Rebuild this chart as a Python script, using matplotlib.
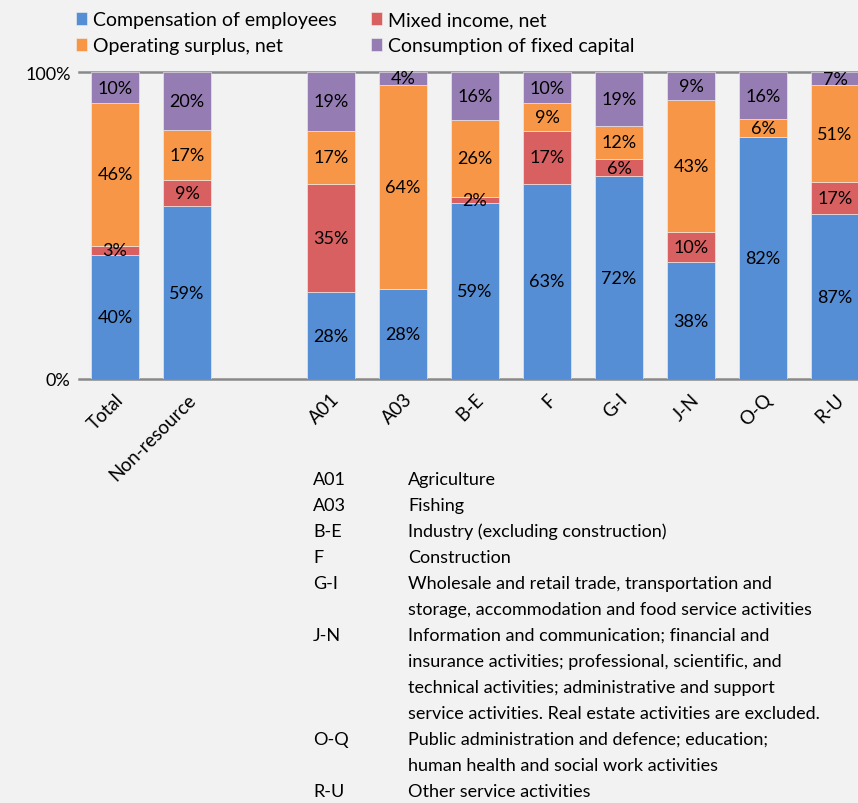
import matplotlib
matplotlib.use("Agg")
import matplotlib.pyplot as plt
import numpy as np

plt.rcParams['font.family'] = ['Lato', 'DejaVu Sans']

categories = ["Total", "Non-resource", "", "A01", "A03", "B-E", "F", "G-I", "J-N", "O-Q", "R-U"]
compensation = [40, 59, 0, 28, 28, 59, 63, 72, 38, 82, 87]
mixed_income = [3, 9, 0, 35, 0, 2, 17, 6, 10, 0, 17]
operating_surplus = [46, 17, 0, 17, 64, 26, 9, 12, 43, 6, 51]
fixed_capital = [10, 20, 0, 19, 4, 16, 10, 19, 9, 16, 7]

series_names = ["Compensation of employees", "Mixed income, net",
                "Operating surplus, net", "Consumption of fixed capital"]
colors = ["#558ED5", "#D96060", "#F79646", "#957DB3"]

codes = ["A01", "A03", "B-E", "F", "G-I", "", "J-N", "", "", "", "O-Q", "", "R-U"]
descriptions = [
    "Agriculture",
    "Fishing",
    "Industry (excluding construction)",
    "Construction",
    "Wholesale and retail trade, transportation and",
    "storage, accommodation and food service activities",
    "Information and communication; financial and",
    "insurance activities; professional, scientific, and",
    "technical activities; administrative and support",
    "service activities. Real estate activities are excluded.",
    "Public administration and defence; education;",
    "human health and social work activities",
    "Other service activities",
]

W, H = 858, 804
fig = plt.figure(figsize=(W / 100, H / 100), dpi=100, facecolor="#F2F2F2")
ax = fig.add_axes([79 / W, 1 - 380 / H, (W - 79) / W, (380 - 73) / H])
ax.set_facecolor("#F2F2F2")

data = np.array([compensation, mixed_income, operating_surplus, fixed_capital], dtype=float)
totals = data.sum(axis=0)
x = np.arange(len(categories))
bottom = np.zeros(len(categories))
handles = []
for i, (name, col) in enumerate(zip(series_names, colors)):
    vals = data[i]
    share = np.where(totals > 0, vals / np.where(totals > 0, totals, 1), 0)
    mask = vals > 0
    h = ax.bar(x[mask], share[mask], bottom=bottom[mask], width=0.66, color=col,
               edgecolor="#F2F2F2", linewidth=0.4, label=name, zorder=3)
    handles.append(h)
    for xi, b, s, v in zip(x[mask], bottom[mask], share[mask], vals[mask]):
        ax.text(xi, b + s / 2, f"{int(v)}%", ha="center", va="center",
                fontsize=13, color="black", zorder=4)
    bottom = bottom + share

ax.set_xlim(-0.5, (W - 79) / 72 - 0.5)
ax.set_ylim(0, 1)
for sp in ax.spines.values():
    sp.set_visible(False)
ax.axhline(0, color="#898989", lw=1.8, zorder=2, clip_on=False)
ax.axhline(1, color="#898989", lw=1.8, zorder=2, clip_on=False)
ax.set_yticks([0, 1])
ax.set_yticklabels(["0%", "100%"], fontsize=13)
ax.tick_params(axis="y", length=0, pad=6)
ax.set_xticks(x)
ax.set_xticklabels(categories, rotation=45, ha="right", rotation_mode="anchor", fontsize=13.5)
ax.tick_params(axis="x", length=0, pad=8)

order = [0, 2, 1, 3]
fig.legend([handles[k] for k in order], [series_names[k] for k in order],
           loc="upper left", bbox_to_anchor=(58 / W, 1 + 5 / H), ncol=2,
           frameon=False, fontsize=14, handlelength=0.6, handleheight=0.6,
           handletextpad=0.3, columnspacing=1.75, labelspacing=0.45)

y0 = 480
for i, (c, d) in enumerate(zip(codes, descriptions)):
    yy = 1 - (y0 + i * 26) / H
    if c:
        fig.text(313 / W, yy, c, fontsize=13, va="center", ha="left")
    fig.text(408 / W, yy, d, fontsize=13, va="center", ha="left")

fig.savefig("out.png", dpi=100, facecolor=fig.get_facecolor())
